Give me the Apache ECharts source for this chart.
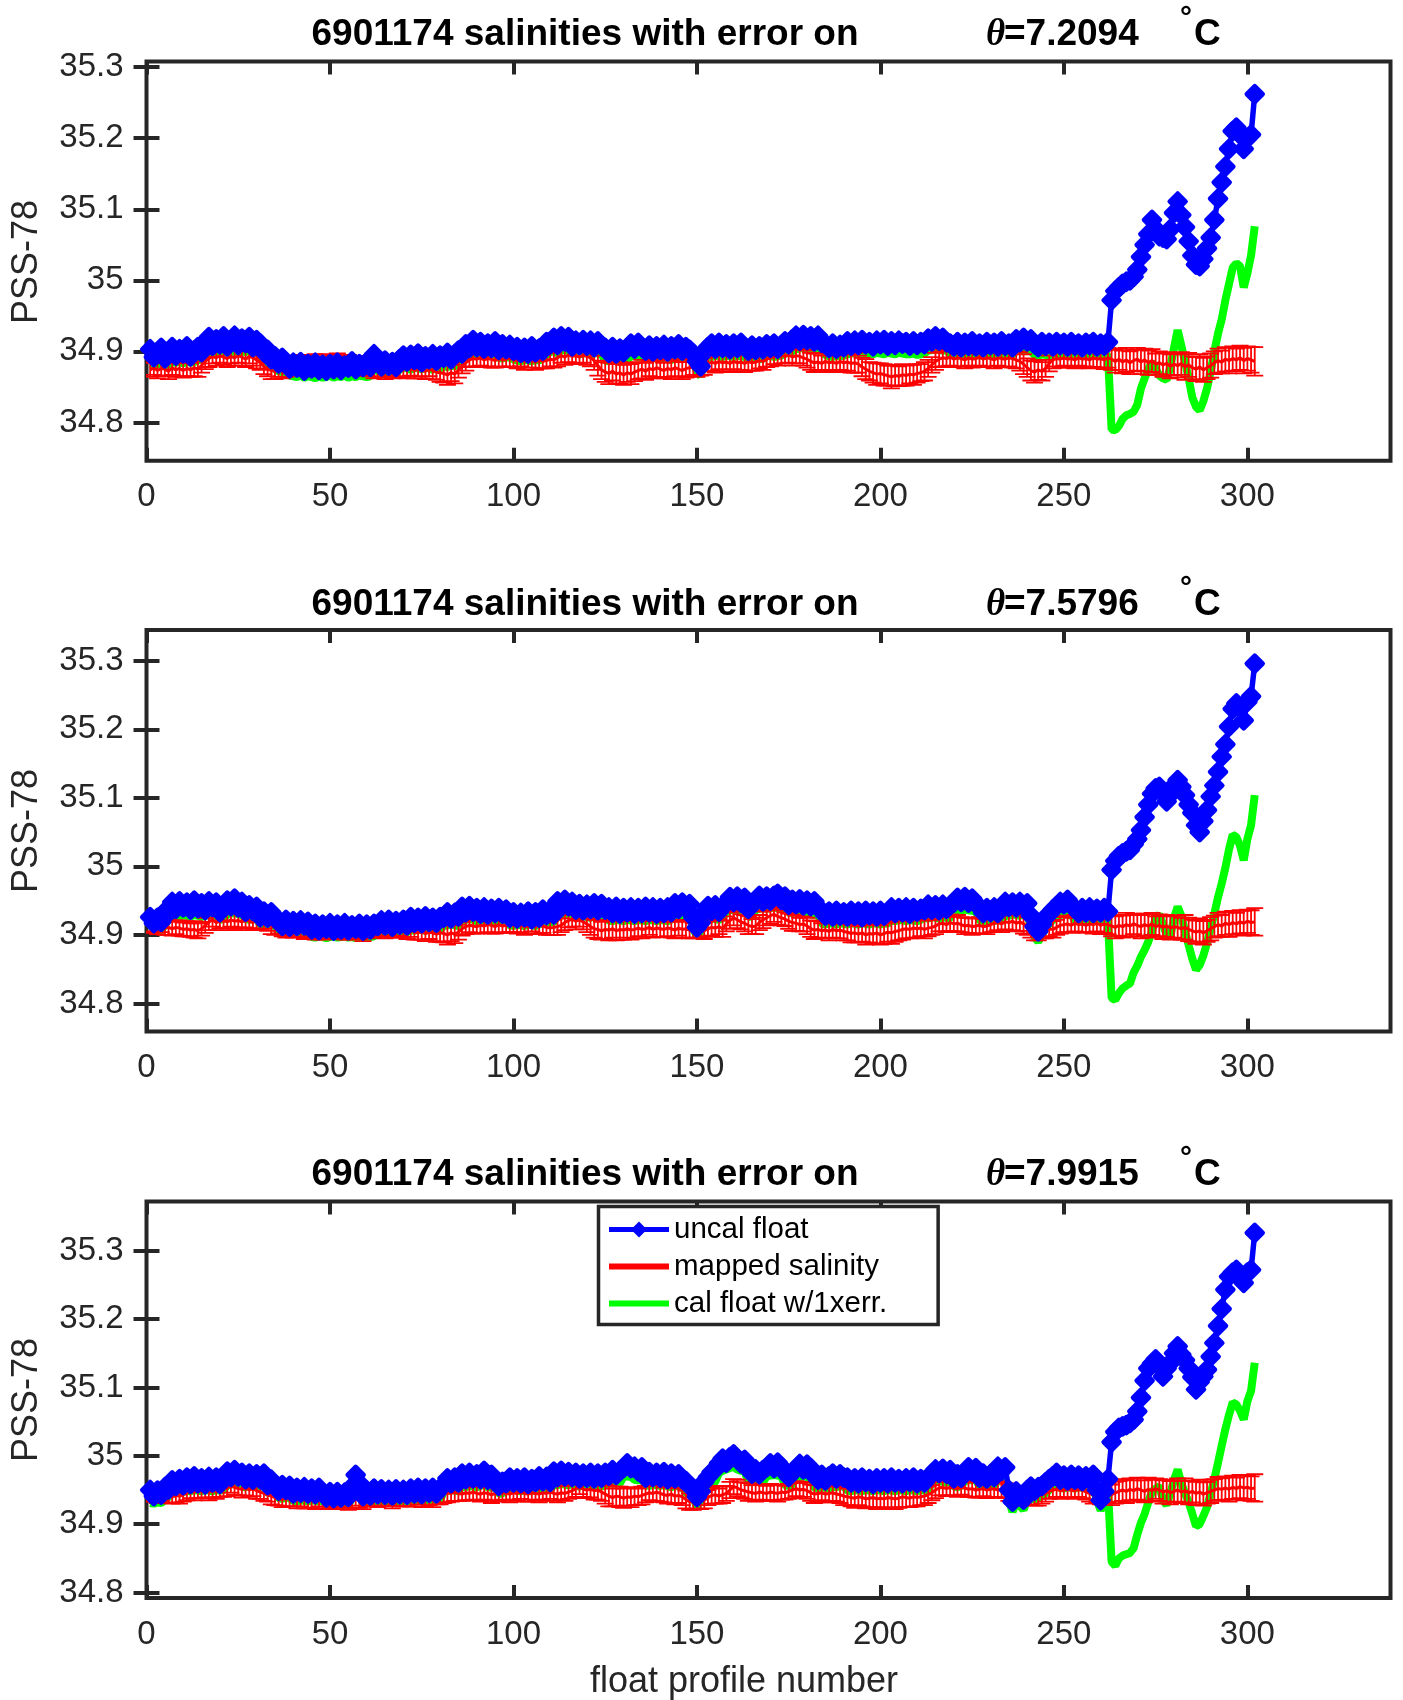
<!DOCTYPE html>
<html><head><meta charset="utf-8">
<script src="https://cdn.jsdelivr.net/npm/echarts@6/dist/echarts.min.js"></script>
<style>html,body{margin:0;padding:0;background:#fff}#c{width:1403px;height:1700px}</style>
</head><body><div id="c"></div>
<script>
const floatId = '6901174';
const thetaLevels = ['7.2094', '7.5796', '7.9915'];
const yTickValues = [34.8, 34.9, 35, 35.1, 35.2, 35.3];
const xTickValues = [0, 50, 100, 150, 200, 250, 300];
const profileNo = Array.from({length: 302}, (_, i) => i + 1);

// ---- panel 1 (theta = 7.2094) ----
const uncal1 = [
34.903,34.892,34.899,34.905,34.890,34.896,34.906,34.894,34.903,34.897,
34.907,34.893,34.901,34.906,34.899,34.913,34.920,34.908,34.917,34.910,
34.921,34.907,34.915,34.922,34.909,34.918,34.912,34.920,34.906,34.916,
34.911,34.899,34.902,34.889,34.893,34.883,34.891,34.884,34.876,34.884,
34.877,34.885,34.873,34.882,34.876,34.884,34.874,34.881,34.873,34.882,
34.875,34.884,34.874,34.880,34.877,34.886,34.875,34.882,34.878,34.885,
34.878,34.896,34.886,34.879,34.887,34.880,34.885,34.878,34.889,34.894,
34.886,34.895,34.888,34.897,34.885,34.893,34.889,34.896,34.887,34.894,
34.891,34.898,34.889,34.896,34.901,34.897,34.910,34.905,34.916,34.906,
34.913,34.904,34.911,34.905,34.914,34.902,34.910,34.903,34.909,34.901,
34.906,34.898,34.905,34.897,34.907,34.899,34.904,34.901,34.913,34.910,
34.919,34.909,34.921,34.914,34.920,34.907,34.915,34.909,34.916,34.908,
34.915,34.906,34.914,34.908,34.905,34.898,34.906,34.897,34.904,34.899,
34.905,34.911,34.904,34.912,34.906,34.901,34.908,34.900,34.907,34.902,
34.909,34.900,34.907,34.903,34.910,34.901,34.906,34.902,34.897,34.886,
34.879,34.899,34.906,34.911,34.904,34.912,34.905,34.910,34.903,34.911,
34.905,34.912,34.906,34.901,34.908,34.902,34.907,34.903,34.910,34.905,
34.911,34.904,34.909,34.914,34.910,34.917,34.922,34.915,34.923,34.916,
34.921,34.914,34.922,34.912,34.910,34.905,34.911,34.904,34.909,34.906,
34.914,34.908,34.915,34.909,34.916,34.910,34.913,34.907,34.915,34.910,
34.916,34.908,34.914,34.909,34.915,34.911,34.913,34.908,34.914,34.909,
34.913,34.910,34.918,34.914,34.921,34.915,34.919,34.913,34.911,34.907,
34.913,34.906,34.912,34.908,34.914,34.907,34.911,34.906,34.913,34.909,
34.912,34.907,34.914,34.908,34.911,34.906,34.917,34.913,34.919,34.914,
34.917,34.910,34.906,34.913,34.908,34.912,34.907,34.913,34.909,34.912,
34.907,34.913,34.908,34.911,34.906,34.912,34.909,34.913,34.907,34.911,
34.908,34.913,34.972,34.985,34.990,34.995,34.998,35.000,35.005,35.015,
35.033,35.050,35.065,35.085,35.072,35.062,35.060,35.058,35.072,35.095,
35.111,35.092,35.075,35.055,35.035,35.022,35.020,35.030,35.045,35.060,
35.085,35.115,35.138,35.160,35.185,35.210,35.215,35.205,35.185,35.200,
35.205,35.262];
const mapped1 = [
34.874,34.877,34.873,34.876,34.875,34.872,34.877,34.874,34.876,34.873,
34.876,34.874,34.877,34.875,34.880,34.886,34.890,34.893,34.891,34.894,
34.892,34.890,34.893,34.891,34.894,34.892,34.889,34.893,34.891,34.888,
34.884,34.879,34.875,34.873,34.872,34.874,34.873,34.876,34.879,34.882,
34.881,34.883,34.882,34.884,34.881,34.883,34.882,34.880,34.883,34.881,
34.882,34.884,34.881,34.883,34.882,34.880,34.882,34.881,34.879,34.877,
34.875,34.873,34.876,34.874,34.872,34.875,34.874,34.876,34.873,34.875,
34.874,34.876,34.873,34.875,34.874,34.872,34.875,34.873,34.871,34.870,
34.869,34.867,34.870,34.868,34.874,34.879,34.884,34.888,34.890,34.889,
34.891,34.888,34.890,34.889,34.887,34.890,34.888,34.889,34.891,34.888,
34.887,34.889,34.886,34.888,34.887,34.885,34.888,34.886,34.887,34.889,
34.888,34.891,34.894,34.892,34.895,34.893,34.894,34.892,34.895,34.893,
34.891,34.887,34.880,34.874,34.871,34.869,34.872,34.868,34.870,34.867,
34.870,34.868,34.871,34.873,34.875,34.872,34.876,34.874,34.877,34.875,
34.873,34.876,34.874,34.877,34.875,34.873,34.876,34.877,34.878,34.876,
34.877,34.879,34.883,34.885,34.883,34.886,34.884,34.885,34.883,34.886,
34.884,34.885,34.883,34.886,34.884,34.885,34.887,34.886,34.889,34.891,
34.893,34.892,34.894,34.893,34.895,34.892,34.894,34.893,34.891,34.889,
34.886,34.884,34.885,34.883,34.886,34.884,34.885,34.883,34.886,34.884,
34.885,34.883,34.884,34.882,34.878,34.875,34.872,34.870,34.868,34.869,
34.867,34.866,34.864,34.866,34.865,34.867,34.866,34.868,34.867,34.869,
34.870,34.872,34.876,34.881,34.886,34.889,34.891,34.890,34.892,34.889,
34.891,34.890,34.888,34.891,34.889,34.890,34.892,34.889,34.891,34.890,
34.888,34.891,34.890,34.889,34.891,34.890,34.888,34.886,34.882,34.877,
34.873,34.871,34.874,34.872,34.876,34.883,34.888,34.890,34.889,34.891,
34.889,34.890,34.888,34.891,34.889,34.890,34.888,34.891,34.889,34.890,
34.888,34.891,34.889,34.886,34.889,34.885,34.888,34.884,34.887,34.889,
34.885,34.888,34.884,34.887,34.882,34.884,34.881,34.883,34.879,34.882,
34.880,34.883,34.878,34.881,34.877,34.875,34.878,34.874,34.877,34.880,
34.884,34.887,34.885,34.889,34.887,34.890,34.888,34.891,34.887,34.890,
34.888,34.886];
const cal1 = [
34.882,34.880,34.883,34.881,34.879,34.882,34.885,34.884,34.886,34.883,
34.886,34.884,34.885,34.887,34.890,34.895,34.899,34.898,34.900,34.899,
34.901,34.898,34.900,34.899,34.897,34.900,34.899,34.901,34.898,34.899,
34.893,34.888,34.883,34.879,34.875,34.872,34.871,34.872,34.866,34.865,
34.864,34.866,34.863,34.865,34.864,34.862,34.865,34.863,34.864,34.866,
34.863,34.865,34.864,34.866,34.863,34.865,34.864,34.866,34.865,34.864,
34.865,34.878,34.873,34.868,34.867,34.869,34.866,34.868,34.875,34.877,
34.876,34.874,34.877,34.876,34.875,34.877,34.876,34.874,34.877,34.876,
34.879,34.878,34.880,34.879,34.883,34.887,34.891,34.895,34.897,34.894,
34.895,34.893,34.894,34.895,34.893,34.891,34.890,34.892,34.891,34.889,
34.887,34.886,34.888,34.887,34.886,34.888,34.887,34.891,34.895,34.899,
34.901,34.897,34.901,34.902,34.900,34.897,34.898,34.896,34.897,34.898,
34.896,34.897,34.898,34.896,34.887,34.886,34.888,34.887,34.885,34.887,
34.888,34.893,34.894,34.892,34.893,34.890,34.889,34.891,34.890,34.889,
34.891,34.890,34.888,34.890,34.891,34.889,34.890,34.889,34.885,34.872,
34.865,34.885,34.893,34.892,34.894,34.893,34.892,34.894,34.893,34.892,
34.894,34.893,34.892,34.890,34.889,34.891,34.890,34.889,34.893,34.894,
34.892,34.893,34.894,34.897,34.898,34.900,34.903,34.904,34.905,34.904,
34.903,34.905,34.904,34.902,34.895,34.893,34.892,34.894,34.893,34.894,
34.896,34.897,34.898,34.897,34.896,34.898,34.897,34.896,34.898,34.897,
34.896,34.898,34.897,34.896,34.898,34.897,34.896,34.896,34.897,34.895,
34.896,34.897,34.901,34.902,34.903,34.902,34.901,34.902,34.896,34.895,
34.894,34.896,34.895,34.894,34.896,34.895,34.894,34.895,34.896,34.894,
34.895,34.896,34.895,34.894,34.895,34.896,34.900,34.901,34.902,34.901,
34.900,34.895,34.894,34.896,34.895,34.894,34.896,34.895,34.894,34.895,
34.896,34.894,34.895,34.896,34.895,34.894,34.895,34.896,34.894,34.895,
34.896,34.895,34.790,34.789,34.795,34.805,34.810,34.812,34.815,34.825,
34.848,34.862,34.875,34.885,34.876,34.866,34.862,34.860,34.878,34.905,
34.930,34.908,34.885,34.862,34.835,34.822,34.817,34.830,34.848,34.872,
34.900,34.925,34.945,34.972,34.995,35.018,35.024,35.020,34.990,35.010,
35.035,35.076];

// ---- panel 2 (theta = 7.5796) ----
const uncal2 = [
34.926,34.917,34.925,34.919,34.934,34.932,34.948,34.938,34.949,34.940,
34.947,34.937,34.950,34.939,34.946,34.936,34.949,34.941,34.947,34.933,
34.941,34.950,34.942,34.953,34.940,34.948,34.934,34.943,34.935,34.941,
34.926,34.934,34.925,34.933,34.924,34.921,34.913,34.922,34.912,34.920,
34.913,34.921,34.914,34.919,34.908,34.916,34.907,34.915,34.909,34.917,
34.906,34.915,34.908,34.917,34.907,34.914,34.909,34.916,34.906,34.915,
34.908,34.916,34.913,34.921,34.914,34.922,34.912,34.920,34.915,34.922,
34.914,34.926,34.918,34.925,34.917,34.927,34.919,34.925,34.918,34.926,
34.925,34.933,34.924,34.932,34.927,34.941,34.933,34.942,34.934,34.939,
34.931,34.940,34.930,34.938,34.932,34.939,34.931,34.937,34.925,34.933,
34.924,34.932,34.926,34.934,34.923,34.933,34.925,34.937,34.929,34.936,
34.930,34.949,34.941,34.951,34.942,34.948,34.937,34.945,34.936,34.944,
34.938,34.946,34.936,34.945,34.937,34.940,34.932,34.941,34.931,34.939,
34.933,34.940,34.931,34.939,34.932,34.941,34.933,34.940,34.931,34.939,
34.932,34.940,34.933,34.946,34.938,34.947,34.939,34.945,34.925,34.911,
34.918,34.934,34.942,34.935,34.943,34.934,34.941,34.947,34.955,34.948,
34.956,34.947,34.954,34.938,34.944,34.950,34.957,34.949,34.956,34.950,
34.957,34.960,34.951,34.956,34.944,34.951,34.945,34.952,34.943,34.950,
34.942,34.949,34.940,34.935,34.928,34.934,34.927,34.935,34.928,34.933,
34.927,34.935,34.928,34.934,34.926,34.935,34.929,34.934,34.927,34.935,
34.928,34.933,34.940,34.932,34.939,34.933,34.940,34.931,34.939,34.934,
34.938,34.936,34.944,34.937,34.943,34.936,34.944,34.938,34.943,34.947,
34.954,34.948,34.955,34.947,34.953,34.946,34.940,34.932,34.939,34.933,
34.940,34.932,34.939,34.948,34.941,34.947,34.940,34.948,34.942,34.946,
34.928,34.912,34.905,34.915,34.925,34.931,34.937,34.942,34.948,34.945,
34.951,34.944,34.938,34.932,34.939,34.933,34.940,34.932,34.938,34.933,
34.939,34.934,34.995,35.008,35.015,35.019,35.022,35.024,35.032,35.040,
35.053,35.072,35.090,35.106,35.114,35.116,35.108,35.095,35.105,35.118,
35.126,35.116,35.104,35.090,35.078,35.060,35.050,35.066,35.082,35.102,
35.118,35.138,35.160,35.178,35.204,35.230,35.238,35.232,35.213,35.240,
35.248,35.296];
const mapped2 = [
34.913,34.915,34.912,34.914,34.910,34.911,34.909,34.911,34.910,34.908,
34.909,34.907,34.908,34.906,34.909,34.914,34.919,34.922,34.918,34.920,
34.921,34.919,34.922,34.920,34.921,34.919,34.922,34.920,34.918,34.921,
34.919,34.920,34.916,34.913,34.911,34.912,34.909,34.908,34.910,34.907,
34.909,34.908,34.907,34.909,34.908,34.906,34.907,34.905,34.907,34.906,
34.905,34.907,34.906,34.904,34.906,34.907,34.905,34.906,34.904,34.906,
34.908,34.907,34.909,34.908,34.906,34.909,34.908,34.907,34.909,34.908,
34.906,34.907,34.904,34.903,34.905,34.902,34.904,34.903,34.901,34.903,
34.902,34.900,34.903,34.901,34.904,34.909,34.912,34.914,34.913,34.912,
34.914,34.913,34.915,34.914,34.912,34.915,34.913,34.914,34.916,34.914,
34.913,34.914,34.912,34.913,34.915,34.912,34.914,34.913,34.911,34.910,
34.911,34.912,34.914,34.918,34.921,34.923,34.920,34.922,34.919,34.916,
34.912,34.909,34.908,34.906,34.908,34.907,34.909,34.906,34.908,34.907,
34.909,34.907,34.908,34.910,34.908,34.909,34.911,34.908,34.910,34.909,
34.908,34.910,34.909,34.907,34.910,34.908,34.909,34.907,34.906,34.908,
34.907,34.906,34.909,34.911,34.910,34.912,34.909,34.916,34.921,34.925,
34.922,34.919,34.917,34.914,34.912,34.913,34.918,34.922,34.925,34.928,
34.930,34.927,34.925,34.923,34.920,34.918,34.917,34.915,34.916,34.913,
34.909,34.907,34.908,34.906,34.907,34.905,34.908,34.906,34.907,34.905,
34.904,34.902,34.903,34.901,34.903,34.900,34.902,34.901,34.903,34.900,
34.902,34.904,34.903,34.905,34.906,34.908,34.909,34.908,34.910,34.909,
34.910,34.908,34.910,34.911,34.913,34.916,34.917,34.915,34.918,34.916,
34.917,34.915,34.913,34.914,34.912,34.913,34.914,34.912,34.913,34.915,
34.917,34.918,34.916,34.919,34.918,34.920,34.917,34.919,34.916,34.913,
34.910,34.907,34.906,34.908,34.907,34.909,34.908,34.911,34.914,34.915,
34.916,34.914,34.917,34.915,34.916,34.914,34.916,34.915,34.917,34.914,
34.916,34.915,34.913,34.911,34.914,34.912,34.915,34.913,34.916,34.914,
34.912,34.915,34.913,34.916,34.912,34.914,34.911,34.913,34.910,34.912,
34.911,34.909,34.911,34.908,34.906,34.904,34.906,34.903,34.906,34.909,
34.912,34.915,34.913,34.917,34.915,34.918,34.916,34.919,34.917,34.920,
34.918,34.919];
const cal2 = [
34.907,34.906,34.908,34.906,34.915,34.922,34.927,34.928,34.927,34.929,
34.928,34.927,34.929,34.928,34.926,34.928,34.929,34.927,34.928,34.922,
34.923,34.930,34.931,34.932,34.930,34.929,34.923,34.922,34.924,34.923,
34.915,34.914,34.916,34.915,34.913,34.903,34.902,34.901,34.903,34.902,
34.901,34.903,34.902,34.901,34.897,34.896,34.898,34.897,34.895,34.897,
34.898,34.896,34.897,34.898,34.896,34.897,34.895,34.897,34.898,34.896,
34.897,34.898,34.902,34.903,34.904,34.903,34.902,34.904,34.903,34.902,
34.904,34.907,34.906,34.908,34.907,34.906,34.908,34.907,34.906,34.908,
34.913,34.914,34.915,34.914,34.913,34.921,34.922,34.923,34.922,34.920,
34.921,34.919,34.920,34.921,34.919,34.920,34.921,34.919,34.914,34.913,
34.915,34.914,34.913,34.915,34.914,34.913,34.915,34.918,34.917,34.919,
34.918,34.929,34.930,34.931,34.930,34.929,34.926,34.925,34.927,34.926,
34.925,34.927,34.926,34.925,34.927,34.921,34.920,34.922,34.921,34.920,
34.922,34.921,34.920,34.922,34.921,34.920,34.922,34.921,34.920,34.922,
34.921,34.920,34.922,34.927,34.926,34.928,34.927,34.926,34.910,34.897,
34.905,34.923,34.922,34.924,34.923,34.922,34.924,34.935,34.936,34.937,
34.936,34.935,34.937,34.926,34.927,34.937,34.938,34.939,34.938,34.939,
34.940,34.939,34.938,34.937,34.933,34.932,34.934,34.933,34.932,34.934,
34.930,34.929,34.930,34.916,34.915,34.917,34.916,34.915,34.917,34.916,
34.915,34.917,34.916,34.915,34.917,34.916,34.915,34.917,34.916,34.915,
34.917,34.916,34.921,34.920,34.922,34.921,34.920,34.922,34.921,34.920,
34.922,34.925,34.924,34.926,34.925,34.924,34.926,34.925,34.924,34.934,
34.935,34.936,34.937,34.936,34.935,34.934,34.921,34.920,34.922,34.921,
34.920,34.922,34.921,34.929,34.928,34.930,34.929,34.928,34.930,34.929,
34.913,34.897,34.890,34.900,34.910,34.916,34.922,34.925,34.929,34.931,
34.932,34.930,34.921,34.920,34.922,34.921,34.920,34.922,34.921,34.920,
34.922,34.921,34.808,34.805,34.815,34.822,34.826,34.829,34.845,34.855,
34.868,34.878,34.890,34.905,34.925,34.930,34.915,34.900,34.897,34.925,
34.941,34.928,34.905,34.885,34.865,34.849,34.856,34.870,34.888,34.910,
34.931,34.955,34.975,34.998,35.025,35.046,35.043,35.030,35.009,35.040,
35.060,35.104];

// ---- panel 3 (theta = 7.9915) ----
const uncal3 = [
34.950,34.941,34.949,34.943,34.954,34.951,34.964,34.956,34.966,34.957,
34.968,34.959,34.970,34.960,34.967,34.958,34.969,34.961,34.968,34.959,
34.967,34.977,34.969,34.979,34.970,34.975,34.966,34.974,34.965,34.973,
34.966,34.974,34.957,34.965,34.958,34.949,34.957,34.950,34.956,34.945,
34.953,34.946,34.954,34.945,34.952,34.944,34.953,34.946,34.939,34.947,
34.938,34.947,34.939,34.946,34.940,34.955,34.972,34.960,34.941,34.949,
34.942,34.952,34.944,34.951,34.943,34.950,34.942,34.951,34.944,34.950,
34.943,34.952,34.945,34.953,34.944,34.952,34.946,34.953,34.945,34.952,
34.958,34.967,34.960,34.968,34.961,34.974,34.966,34.975,34.967,34.973,
34.966,34.978,34.965,34.972,34.966,34.956,34.962,34.960,34.968,34.961,
34.967,34.960,34.968,34.959,34.966,34.962,34.970,34.963,34.969,34.962,
34.977,34.969,34.978,34.970,34.976,34.969,34.975,34.967,34.974,34.968,
34.975,34.967,34.974,34.968,34.975,34.971,34.979,34.972,34.978,34.982,
34.989,34.982,34.984,34.977,34.983,34.968,34.976,34.969,34.975,34.968,
34.976,34.966,34.974,34.967,34.973,34.966,34.963,34.956,34.952,34.940,
34.948,34.962,34.969,34.976,34.980,34.989,34.996,34.990,34.998,35.002,
34.995,34.989,34.994,34.981,34.974,34.980,34.973,34.979,34.983,34.989,
34.982,34.990,34.984,34.975,34.969,34.976,34.981,34.988,34.980,34.987,
34.982,34.971,34.965,34.972,34.964,34.970,34.974,34.967,34.973,34.968,
34.968,34.961,34.967,34.960,34.968,34.962,34.966,34.959,34.967,34.961,
34.967,34.960,34.968,34.961,34.966,34.960,34.967,34.962,34.968,34.960,
34.966,34.961,34.968,34.974,34.980,34.975,34.981,34.974,34.979,34.967,
34.973,34.968,34.976,34.983,34.977,34.982,34.968,34.974,34.967,34.973,
34.969,34.984,34.978,34.983,34.950,34.933,34.948,34.942,34.936,34.950,
34.955,34.949,34.954,34.956,34.961,34.966,34.970,34.975,34.965,34.971,
34.964,34.972,34.965,34.971,34.963,34.970,34.966,34.972,34.950,34.935,
34.948,34.966,35.020,35.035,35.041,35.043,35.045,35.048,35.053,35.065,
35.085,35.110,35.128,35.135,35.141,35.130,35.116,35.128,35.136,35.150,
35.160,35.148,35.140,35.128,35.115,35.097,35.108,35.116,35.126,35.145,
35.165,35.190,35.215,35.243,35.262,35.268,35.272,35.262,35.253,35.268,
35.272,35.326];
const mapped3 = [
34.943,34.945,34.942,34.944,34.941,34.942,34.940,34.942,34.941,34.943,
34.946,34.948,34.947,34.949,34.948,34.950,34.947,34.949,34.948,34.950,
34.951,34.953,34.956,34.954,34.952,34.951,34.953,34.950,34.952,34.949,
34.947,34.945,34.943,34.941,34.939,34.937,34.936,34.938,34.936,34.937,
34.935,34.937,34.936,34.934,34.936,34.935,34.937,34.935,34.936,34.934,
34.936,34.935,34.937,34.935,34.934,34.936,34.938,34.936,34.935,34.937,
34.936,34.938,34.937,34.936,34.938,34.937,34.935,34.938,34.936,34.937,
34.938,34.936,34.937,34.939,34.937,34.936,34.938,34.937,34.940,34.942,
34.944,34.946,34.945,34.947,34.945,34.944,34.946,34.945,34.947,34.945,
34.944,34.946,34.945,34.943,34.945,34.944,34.946,34.945,34.944,34.946,
34.945,34.947,34.945,34.944,34.946,34.945,34.944,34.946,34.945,34.947,
34.945,34.944,34.946,34.945,34.947,34.949,34.952,34.954,34.951,34.950,
34.951,34.949,34.950,34.947,34.944,34.941,34.939,34.941,34.940,34.938,
34.940,34.939,34.941,34.940,34.942,34.944,34.946,34.945,34.947,34.945,
34.943,34.942,34.944,34.941,34.942,34.940,34.936,34.933,34.932,34.934,
34.933,34.935,34.939,34.942,34.943,34.941,34.943,34.945,34.950,34.955,
34.953,34.950,34.949,34.947,34.946,34.945,34.947,34.946,34.945,34.947,
34.946,34.945,34.947,34.946,34.948,34.950,34.952,34.950,34.951,34.949,
34.946,34.944,34.945,34.946,34.944,34.945,34.946,34.944,34.943,34.941,
34.940,34.939,34.938,34.940,34.939,34.937,34.938,34.939,34.937,34.938,
34.937,34.939,34.938,34.937,34.938,34.940,34.939,34.938,34.940,34.939,
34.940,34.941,34.943,34.946,34.950,34.953,34.954,34.952,34.954,34.953,
34.952,34.954,34.953,34.951,34.952,34.950,34.951,34.952,34.950,34.951,
34.952,34.950,34.951,34.949,34.946,34.943,34.942,34.940,34.942,34.941,
34.943,34.942,34.941,34.943,34.945,34.948,34.950,34.951,34.949,34.950,
34.951,34.950,34.949,34.951,34.950,34.947,34.945,34.943,34.944,34.942,
34.944,34.945,34.943,34.946,34.948,34.950,34.948,34.951,34.949,34.952,
34.950,34.948,34.951,34.949,34.952,34.950,34.947,34.949,34.946,34.948,
34.950,34.947,34.949,34.946,34.948,34.945,34.947,34.944,34.946,34.948,
34.950,34.952,34.951,34.953,34.951,34.954,34.952,34.955,34.953,34.954,
34.952,34.953];
const cal3 = [
34.931,34.930,34.932,34.931,34.935,34.940,34.944,34.946,34.945,34.947,
34.949,34.948,34.950,34.949,34.948,34.950,34.949,34.948,34.950,34.949,
34.950,34.957,34.958,34.959,34.958,34.955,34.954,34.956,34.955,34.954,
34.956,34.955,34.946,34.945,34.947,34.938,34.937,34.939,34.938,34.934,
34.933,34.935,34.934,34.933,34.935,34.934,34.933,34.935,34.928,34.927,
34.929,34.928,34.927,34.929,34.928,34.938,34.950,34.943,34.930,34.930,
34.931,34.935,34.932,34.931,34.933,34.932,34.931,34.933,34.932,34.931,
34.933,34.934,34.933,34.935,34.934,34.933,34.935,34.934,34.933,34.935,
34.948,34.949,34.950,34.949,34.948,34.955,34.954,34.956,34.955,34.954,
34.956,34.959,34.954,34.953,34.955,34.944,34.945,34.949,34.948,34.950,
34.949,34.948,34.950,34.949,34.948,34.951,34.950,34.952,34.951,34.950,
34.958,34.957,34.959,34.958,34.957,34.959,34.956,34.955,34.957,34.956,
34.955,34.957,34.956,34.955,34.957,34.960,34.959,34.961,34.960,34.969,
34.970,34.969,34.965,34.964,34.966,34.957,34.956,34.958,34.957,34.956,
34.958,34.955,34.954,34.956,34.955,34.954,34.946,34.944,34.940,34.925,
34.934,34.945,34.956,34.958,34.962,34.975,34.978,34.980,34.982,34.984,
34.980,34.978,34.977,34.962,34.961,34.963,34.962,34.961,34.970,34.971,
34.972,34.971,34.970,34.957,34.956,34.958,34.968,34.969,34.970,34.969,
34.968,34.953,34.952,34.954,34.953,34.952,34.955,34.954,34.956,34.955,
34.949,34.948,34.950,34.949,34.948,34.950,34.949,34.948,34.950,34.949,
34.948,34.950,34.949,34.948,34.950,34.949,34.948,34.950,34.949,34.948,
34.950,34.949,34.948,34.961,34.962,34.963,34.962,34.961,34.963,34.955,
34.954,34.956,34.963,34.964,34.965,34.964,34.956,34.955,34.957,34.956,
34.955,34.965,34.966,34.967,34.935,34.918,34.933,34.927,34.921,34.935,
34.937,34.936,34.938,34.941,34.945,34.950,34.954,34.957,34.953,34.952,
34.954,34.953,34.952,34.954,34.953,34.952,34.954,34.953,34.935,34.920,
34.933,34.951,34.845,34.839,34.850,34.854,34.856,34.858,34.865,34.885,
34.902,34.915,34.932,34.948,34.952,34.956,34.935,34.928,34.945,34.965,
34.980,34.960,34.945,34.932,34.915,34.897,34.900,34.912,34.925,34.945,
34.966,34.990,35.015,35.039,35.060,35.078,35.075,35.066,35.053,35.080,
35.095,35.136];

// mapped-salinity error (half length of the red error bars)
const mapErr = [
0.010,0.010,0.011,0.010,0.010,0.011,0.010,0.010,0.011,0.010,
0.011,0.010,0.012,0.011,0.010,0.011,0.012,0.010,0.011,0.010,
0.011,0.012,0.010,0.011,0.010,0.012,0.011,0.010,0.011,0.012,
0.010,0.011,0.010,0.012,0.011,0.010,0.011,0.012,0.010,0.011,
0.012,0.011,0.013,0.011,0.012,0.013,0.011,0.012,0.013,0.012,
0.011,0.013,0.012,0.011,0.013,0.012,0.011,0.012,0.013,0.011,
0.010,0.011,0.012,0.010,0.011,0.010,0.012,0.011,0.010,0.011,
0.012,0.010,0.011,0.010,0.012,0.011,0.010,0.012,0.011,0.013,
0.013,0.014,0.012,0.013,0.011,0.010,0.011,0.010,0.011,0.010,
0.011,0.010,0.011,0.012,0.010,0.011,0.010,0.011,0.012,0.010,
0.011,0.010,0.012,0.011,0.010,0.011,0.012,0.010,0.011,0.010,
0.011,0.012,0.010,0.011,0.010,0.011,0.012,0.010,0.011,0.012,
0.012,0.013,0.014,0.013,0.014,0.015,0.013,0.014,0.015,0.014,
0.013,0.014,0.013,0.012,0.013,0.012,0.011,0.012,0.013,0.012,
0.011,0.012,0.013,0.012,0.011,0.012,0.013,0.012,0.011,0.012,
0.011,0.012,0.011,0.012,0.013,0.011,0.012,0.011,0.012,0.011,
0.012,0.011,0.012,0.013,0.011,0.012,0.011,0.012,0.011,0.012,
0.011,0.012,0.011,0.010,0.011,0.012,0.011,0.010,0.011,0.012,
0.012,0.013,0.012,0.011,0.012,0.013,0.012,0.011,0.012,0.013,
0.012,0.013,0.014,0.012,0.013,0.014,0.013,0.014,0.015,0.014,
0.015,0.014,0.016,0.015,0.014,0.015,0.014,0.013,0.014,0.013,
0.012,0.013,0.012,0.011,0.012,0.011,0.012,0.011,0.012,0.011,
0.012,0.011,0.012,0.011,0.012,0.011,0.012,0.011,0.012,0.011,
0.012,0.011,0.012,0.011,0.012,0.013,0.012,0.013,0.014,0.013,
0.014,0.015,0.014,0.013,0.012,0.011,0.012,0.011,0.012,0.011,
0.012,0.011,0.012,0.011,0.012,0.011,0.012,0.013,0.012,0.013,
0.013,0.014,0.015,0.016,0.015,0.016,0.017,0.016,0.015,0.016,
0.017,0.016,0.017,0.016,0.015,0.016,0.017,0.016,0.017,0.016,
0.017,0.016,0.018,0.017,0.016,0.017,0.018,0.017,0.016,0.017,
0.016,0.017,0.016,0.017,0.018,0.017,0.016,0.017,0.018,0.017,
0.018,0.020];

// ---------------- layout & styles ----------------
const FONT = "'Liberation Sans', Arial, Helvetica, sans-serif";
const AX = '#262626';
const GL = 146.5, GR = 1390.5;
const layout = [
  {top: 61.5,   bottom: 460.8,  ymin: 34.746, ymax: 35.308, titleY: 35,   labelY: 262},
  {top: 630,    bottom: 1031.5, ymin: 34.759, ymax: 35.345, titleY: 605,  labelY: 831},
  {top: 1201.5, bottom: 1598,   ymin: 34.792, ymax: 35.372, titleY: 1175, labelY: 1400}
];
const panelData = [
  {uncal: uncal1, mapped: mapped1, cal: cal1},
  {uncal: uncal2, mapped: mapped2, cal: cal2},
  {uncal: uncal3, mapped: mapped3, cal: cal3}
];

function renderErr(params, api) {
  const x = api.value(0), lo = api.value(1), hi = api.value(2);
  const a = api.coord([x, lo]), b = api.coord([x, hi]);
  const cw = 8.5;
  const st = {stroke: '#FF0000', lineWidth: 1.8, fill: null};
  return {type: 'group', children: [
    {type: 'line', shape: {x1: a[0], y1: a[1], x2: b[0], y2: b[1]}, style: st},
    {type: 'line', shape: {x1: a[0] - cw, y1: a[1], x2: a[0] + cw, y2: a[1]}, style: st},
    {type: 'line', shape: {x1: b[0] - cw, y1: b[1], x2: b[0] + cw, y2: b[1]}, style: st}
  ]};
}

const grids = [], xAxes = [], yAxes = [], series = [], graphics = [];
const tickStyle = {show: true, inside: true, length: 13, lineStyle: {color: AX, width: 4}};

layout.forEach((L, k) => {
  grids.push({left: GL, top: L.top, width: GR - GL, height: L.bottom - L.top,
    show: true, borderColor: AX, borderWidth: 4, backgroundColor: 'transparent'});
  xAxes.push({type: 'value', gridIndex: k, position: 'bottom', min: 0, max: 339,
    axisLine: {show: false}, splitLine: {show: false},
    axisTick: Object.assign({customValues: xTickValues}, tickStyle),
    axisLabel: {customValues: xTickValues, margin: 20, color: AX, fontSize: 33, fontFamily: FONT}});
  xAxes.push({type: 'value', gridIndex: k, position: 'top', min: 0, max: 339,
    axisLine: {show: false}, splitLine: {show: false},
    axisTick: Object.assign({customValues: xTickValues}, tickStyle),
    axisLabel: {show: false}});
  yAxes.push({type: 'value', gridIndex: k, position: 'left', min: L.ymin, max: L.ymax,
    axisLine: {show: false}, splitLine: {show: false},
    axisTick: Object.assign({customValues: yTickValues}, tickStyle),
    axisLabel: {customValues: yTickValues, margin: 23, color: AX, fontSize: 33, fontFamily: FONT,
      formatter: v => String(+(+v).toFixed(1))}});
  yAxes.push({type: 'value', gridIndex: k, position: 'right', min: L.ymin, max: L.ymax,
    axisLine: {show: false}, splitLine: {show: false},
    axisTick: Object.assign({customValues: yTickValues}, tickStyle),
    axisLabel: {show: false}});

  const d = panelData[k];
  const xi = 2 * k, yi = 2 * k;
  series.push({type: 'line', name: 'cal float w/1xerr.', xAxisIndex: xi, yAxisIndex: yi,
    data: profileNo.map((p, i) => [p, d.cal[i]]), symbol: 'none', showSymbol: false,
    color: '#00FF00', lineStyle: {color: '#00FF00', width: 8}, z: 2, animation: false});
  series.push({type: 'custom', name: 'mapped salinity error bars', xAxisIndex: xi, yAxisIndex: yi,
    data: profileNo.map((p, i) => [p, d.mapped[i] - mapErr[i], d.mapped[i] + mapErr[i]]),
    encode: {x: 0, y: [1, 2]}, renderItem: renderErr, z: 3, clip: true, animation: false});
  series.push({type: 'line', name: 'mapped salinity', xAxisIndex: xi, yAxisIndex: yi,
    data: profileNo.map((p, i) => [p, d.mapped[i]]), symbol: 'none', showSymbol: false,
    color: '#FF0000', lineStyle: {color: '#FF0000', width: 3}, z: 4, animation: false});
  series.push({type: 'line', name: 'uncal float', xAxisIndex: xi, yAxisIndex: yi,
    data: profileNo.map((p, i) => [p, d.uncal[i]]), symbol: 'diamond', symbolSize: 16,
    showSymbol: true, showAllSymbol: true,
    color: '#0000FF', itemStyle: {color: '#0000FF', borderColor: '#0000FF', borderWidth: 4.5, borderJoin: 'round'},
    lineStyle: {color: '#0000FF', width: 5.5}, z: 5, animation: false});

  // title
  const ty = L.titleY;
  graphics.push({type: 'text', x: 585, y: ty, z: 20, style: {
    text: floatId + ' salinities with error on', font: 'bold 37px ' + FONT, fill: '#000',
    align: 'center', verticalAlign: 'middle', textAlign: 'center', textVerticalAlign: 'middle'}});
  graphics.push({type: 'text', x: 986, y: ty, z: 20, style: {
    text: '\u03b8', font: "italic bold 37px 'Liberation Serif', 'DejaVu Serif', serif", fill: '#000',
    align: 'left', verticalAlign: 'middle', textAlign: 'left', textVerticalAlign: 'middle'}});
  graphics.push({type: 'text', x: 1004, y: ty, z: 20, style: {
    text: '=' + thetaLevels[k], font: 'bold 37px ' + FONT, fill: '#000',
    align: 'left', verticalAlign: 'middle', textAlign: 'left', textVerticalAlign: 'middle'}});
  graphics.push({type: 'text', x: 1180, y: ty - 16, z: 20, style: {
    text: '\u00b0', font: 'bold 30px ' + FONT, fill: '#000',
    align: 'left', verticalAlign: 'middle', textAlign: 'left', textVerticalAlign: 'middle'}});
  graphics.push({type: 'text', x: 1194, y: ty, z: 20, style: {
    text: 'C', font: 'bold 37px ' + FONT, fill: '#000',
    align: 'left', verticalAlign: 'middle', textAlign: 'left', textVerticalAlign: 'middle'}});
  // y-axis name
  graphics.push({type: 'text', x: 27, y: L.labelY, rotation: Math.PI / 2, z: 20, style: {
    text: 'PSS-78', font: '36px ' + FONT, fill: AX,
    align: 'center', verticalAlign: 'middle', textAlign: 'center', textVerticalAlign: 'middle'}});
});
graphics.push({type: 'text', x: 744, y: 1682, z: 20, style: {
  text: 'float profile number', font: '36px ' + FONT, fill: AX,
  align: 'center', verticalAlign: 'middle', textAlign: 'center', textVerticalAlign: 'middle'}});

const lineIcon = 'path://M0,0 L60,0 L60,6 L0,6 Z';
const option = {
  animation: false,
  backgroundColor: '#fff',
  textStyle: {fontFamily: FONT},
  grid: grids, xAxis: xAxes, yAxis: yAxes, series: series, graphic: graphics,
  legend: {
    orient: 'vertical', left: 598.5, top: 1206.5, z: 30,
    data: [{name: 'uncal float'}, {name: 'mapped salinity', icon: lineIcon},
           {name: 'cal float w/1xerr.', icon: lineIcon}],
    itemWidth: 60, itemHeight: 20, itemGap: 7,
    padding: [8, 51, 6, 8],
    borderColor: AX, borderWidth: 3.5, backgroundColor: '#fff',
    itemStyle: {borderWidth: 0}, lineStyle: {width: 5},
    selectedMode: false,
    textStyle: {fontFamily: FONT, fontSize: 29.5, color: '#000'}
  }
};
const chart = echarts.init(document.getElementById('c'), null, {renderer: 'canvas'});
chart.setOption(option);
</script></body></html>
